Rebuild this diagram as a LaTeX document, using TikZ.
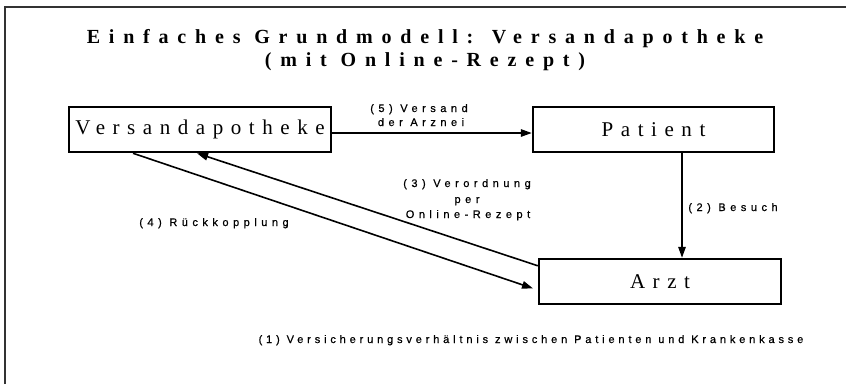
\documentclass[tikz,border=0pt]{standalone}
\usepackage{fontspec}
\setmainfont{Liberation Serif}
\newfontfamily\titlefont[LetterSpace=44]{Liberation Serif}
\newfontfamily\boxfont[LetterSpace=36]{Liberation Serif}
\newfontfamily\labelfont[LetterSpace=41,FakeBold=0.6]{Liberation Sans}
\newfontfamily\notefont[LetterSpace=35,FakeBold=0.6]{Liberation Sans}
\usetikzlibrary{arrows.meta}
\begin{document}
\begin{tikzpicture}[x=1pt,y=-1pt,
  titletxt/.style={anchor=base, inner sep=0pt, font=\titlefont\bfseries\fontsize{20}{24}\selectfont},
  actor/.style={draw, line width=2.5pt, minimum width=#1, minimum height=45pt, inner sep=0pt, font=\boxfont\fontsize{21}{25}\selectfont},
  lbl/.style={anchor=base, inner sep=0pt, font=\labelfont\fontsize{11}{13}\selectfont},
  note/.style={anchor=base, inner sep=0pt, font=\notefont\fontsize{11}{13}\selectfont},
  arr/.style={line width=1.6pt, -{Triangle[length=11pt,width=7.5pt]}},
  frameline/.style={line width=1.5pt, draw=black!80}
]
\useasboundingbox (0,0) rectangle (846,384);
% frame (left and top edge)
\coordinate (fb) at (5,384);
\coordinate (fc) at (5,7);
\coordinate (fr) at (846,7);
\draw[frameline] (fb) -- (fc) -- (fr);
% title
\node[titletxt] (t1) at (425,43) {Einfaches Grundmodell: Versandapotheke};
\node[titletxt] (t2) at (425,66) {(mit Online-Rezept)};
% boxes
\node[actor=262pt] (va) at (200,129.5) {Versandapotheke};
\node[actor=241pt] (pa) at (653.5,129.5) {Patient};
\node[actor=242pt] (ar) at (660,281.5) {Arzt};
% connectors
\draw[arr] ([yshift=-3.5pt]va.east) -- ([yshift=-3.5pt]pa.west);
\draw[arr] ([xshift=28.5pt]pa.south) -- ([xshift=22pt]ar.north);
\draw[arr] ([yshift=-8pt]ar.north west) -- ([xshift=-3pt]va.south);
\draw[arr, shorten >=5pt] ([xshift=-67pt]va.south) -- ([yshift=-8.5pt]ar.west);
% labels
\node[lbl] (l5a) at (419,112) {(5) Versand};
\node[lbl] (l5b) at (421,126) {der Arznei};
\node[lbl] (l3a) at (467,187) {(3) Verordnung};
\node[lbl] (l3b) at (467,203) {per};
\node[lbl] (l3c) at (468,218) {Online-Rezept};
\node[lbl] (l4) at (214,226) {(4) Rückkopplung};
\node[lbl] (l2) at (733,211) {(2) Besuch};
\node[note] (l1) at (531,343) {(1) Versicherungsverhältnis zwischen Patienten und Krankenkasse};
\end{tikzpicture}
\end{document}
